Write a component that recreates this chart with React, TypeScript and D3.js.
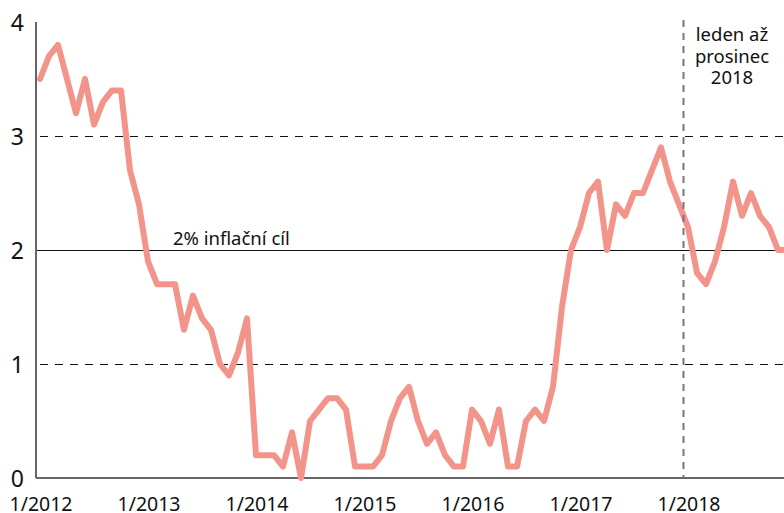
import { useEffect, useRef } from "react";
import * as d3 from "d3";

// monthly CPI y/y, 1/2012 .. 12/2018
const years = [2012, 2013, 2014, 2015, 2016, 2017, 2018];
const inflation2012 = [3.5, 3.7, 3.8, 3.5, 3.2, 3.5, 3.1, 3.3, 3.4, 3.4, 2.7, 2.4];
const inflation2013 = [1.9, 1.7, 1.7, 1.7, 1.3, 1.6, 1.4, 1.3, 1.0, 0.9, 1.1, 1.4];
const inflation2014 = [0.2, 0.2, 0.2, 0.1, 0.4, 0.0, 0.5, 0.6, 0.7, 0.7, 0.6, 0.1];
const inflation2015 = [0.1, 0.1, 0.2, 0.5, 0.7, 0.8, 0.5, 0.3, 0.4, 0.2, 0.1, 0.1];
const inflation2016 = [0.6, 0.5, 0.3, 0.6, 0.1, 0.1, 0.5, 0.6, 0.5, 0.8, 1.5, 2.0];
const inflation2017 = [2.2, 2.5, 2.6, 2.0, 2.4, 2.3, 2.5, 2.5, 2.7, 2.9, 2.6, 2.4];
const inflation2018 = [2.2, 1.8, 1.7, 1.9, 2.2, 2.6, 2.3, 2.5, 2.3, 2.2, 2.0, 2.0];
const yTicks = [0, 1, 2, 3, 4];
const dashedLevels = [1, 3];
const targetLevel = 2;
const targetLabel = "2% inflační cíl";
const noteLines = ["leden až", "prosinec", "2018"];

const values = [
  ...inflation2012,
  ...inflation2013,
  ...inflation2014,
  ...inflation2015,
  ...inflation2016,
  ...inflation2017,
  ...inflation2018,
];

const width = 784;
const height = 513;
const font = "'Noto Sans', sans-serif";
const textColor = "#111";

export default function App() {
  const svgRef = useRef<SVGSVGElement | null>(null);

  useEffect(() => {
    const svg = d3.select(svgRef.current);
    svg.selectAll("*").remove();

    const x = d3.scaleLinear().domain([0, values.length - 1]).range([40, 40 + 9 * (values.length - 1)]);
    const y = d3.scaleLinear().domain([0, 4]).range([478, 22]);
    const axisX = 36;

    svg
      .append("defs")
      .append("clipPath")
      .attr("id", "plot-clip")
      .append("rect")
      .attr("x", axisX)
      .attr("y", 0)
      .attr("width", width - axisX)
      .attr("height", height);

    // dashed gridlines at 1 and 3
    svg
      .selectAll(".grid")
      .data(dashedLevels)
      .join("line")
      .attr("class", "grid")
      .attr("x1", axisX + 4)
      .attr("x2", width)
      .attr("y1", (d) => y(d))
      .attr("y2", (d) => y(d))
      .attr("stroke", "#111")
      .attr("stroke-width", 1)
      .attr("shape-rendering", "crispEdges")
      .attr("stroke-dasharray", "8,7");

    // inflation target
    svg
      .append("line")
      .attr("x1", axisX)
      .attr("x2", width)
      .attr("y1", y(targetLevel))
      .attr("y2", y(targetLevel))
      .attr("stroke", "#111")
      .attr("stroke-width", 1)
      .attr("shape-rendering", "crispEdges");

    svg
      .append("text")
      .attr("x", 173)
      .attr("y", y(targetLevel) - 5)
      .attr("font-family", font)
      .attr("font-size", 18.5)
      .attr("fill", textColor)
      .text(targetLabel);

    // axes
    svg
      .append("line")
      .attr("x1", axisX)
      .attr("x2", axisX)
      .attr("y1", y(4))
      .attr("y2", y(0))
      .attr("stroke", "#666")
      .attr("stroke-width", 2);
    svg
      .append("line")
      .attr("x1", axisX)
      .attr("x2", width)
      .attr("y1", y(0))
      .attr("y2", y(0))
      .attr("stroke", "#666")
      .attr("stroke-width", 2);

    // series
    const line = d3
      .line<number>()
      .x((_, i) => x(i))
      .y((d) => y(d));

    svg
      .append("path")
      .datum(values)
      .attr("clip-path", "url(#plot-clip)")
      .attr("fill", "none")
      .attr("stroke", "#f3948a")
      .attr("stroke-width", 6)
      .attr("stroke-linejoin", "round")
      .attr("stroke-linecap", "round")
      .attr("d", line);

    // divider before 2018
    const divX = x(years.indexOf(2018) * 12 - 0.5);
    svg
      .append("line")
      .attr("x1", divX)
      .attr("x2", divX)
      .attr("y1", 20)
      .attr("y2", y(0))
      .attr("stroke", "#777")
      .attr("stroke-width", 2)
      .attr("stroke-dasharray", "7,6");

    svg
      .append("text")
      .attr("x", 732)
      .attr("text-anchor", "middle")
      .attr("font-family", font)
      .attr("font-size", 18.5)
      .attr("fill", textColor)
      .selectAll("tspan")
      .data(noteLines)
      .join("tspan")
      .attr("x", 732)
      .attr("y", (_, i) => 41 + i * 21.5)
      .text((d) => d);

    // y labels
    svg
      .selectAll(".ylab")
      .data(yTicks)
      .join("text")
      .attr("class", "ylab")
      .attr("x", 24)
      .attr("y", (d) => y(d) + 1)
      .attr("dy", "0.35em")
      .attr("text-anchor", "end")
      .attr("font-family", font)
      .attr("font-size", 23)
      .attr("fill", textColor)
      .text((d) => d);

    // x labels
    svg
      .selectAll(".xlab")
      .data(years)
      .join("text")
      .attr("class", "xlab")
      .attr("x", (_, i) => x(i * 12) + 1)
      .attr("y", 511)
      .attr("text-anchor", "middle")
      .attr("font-family", font)
      .attr("font-size", 19.5)
      .attr("fill", textColor)
      .text((d) => `1/${d}`);
  }, []);

  return (
    <svg
      ref={svgRef}
      width={width}
      height={height}
      style={{ position: "absolute", left: 0, top: 0, background: "#fff" }}
    />
  );
}
